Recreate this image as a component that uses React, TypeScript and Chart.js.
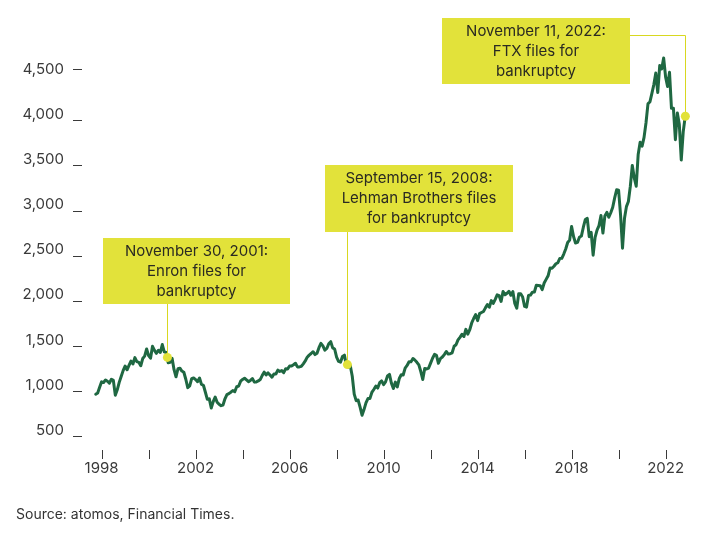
import React, { useEffect, useRef } from "react";
import { Chart, registerables } from "chart.js";

Chart.register(...registerables);

// ---------- DATA ----------
const START_YEAR = 1997;
const START_MONTH = 9; // October 1997 (0-based month)

const levels1997to2004 = [
  968.0, 982.0, 1045.0,
  1105.0, 1098.0, 1125.0, 1111.8, 1090.8, 1133.8, 1120.7, 957.3, 1017.0, 1098.7, 1163.6, 1229.2,
  1279.6, 1238.3, 1286.4, 1335.2, 1301.8, 1372.7, 1328.7, 1320.4, 1282.7, 1362.9, 1389.0, 1469.3,
  1394.5, 1366.4, 1498.6, 1452.4, 1420.6, 1454.6, 1430.8, 1517.7, 1436.5, 1429.4, 1315.2, 1320.3,
  1366.0, 1239.9, 1160.3, 1249.5, 1255.8, 1224.4, 1211.2, 1133.6, 1040.9, 1059.8, 1139.5, 1148.1,
  1130.2, 1106.7, 1147.4, 1076.9, 1067.1, 989.8, 911.6, 916.1, 815.3, 885.8, 936.3, 879.8,
  855.7, 841.2, 848.2, 916.9, 963.6, 974.5, 990.3, 1008.0, 996.0, 1050.7, 1058.2, 1111.9,
  1131.1, 1144.9, 1126.2, 1107.3, 1120.7, 1140.8, 1101.7, 1104.2, 1114.6, 1130.2, 1173.8, 1211.9,
];

const levels2005to2012 = [
  1181.3, 1203.6, 1180.6, 1156.9, 1191.5, 1191.3, 1234.2, 1220.3, 1228.8, 1207.0, 1249.5, 1248.3,
  1280.1, 1280.7, 1294.9, 1310.6, 1270.1, 1270.2, 1276.7, 1303.8, 1335.9, 1377.9, 1400.6, 1418.3,
  1438.2, 1406.8, 1420.9, 1482.4, 1530.6, 1503.4, 1455.3, 1474.0, 1526.8, 1549.4, 1481.1, 1468.4,
  1378.6, 1330.6, 1322.7, 1385.6, 1400.4, 1280.0, 1267.4, 1282.8, 1166.4, 968.8, 896.2, 903.3,
  825.9, 735.1, 797.9, 872.8, 919.1, 919.3, 987.5, 1020.6, 1057.1, 1036.2, 1095.6, 1115.1,
  1073.9, 1104.5, 1169.4, 1186.7, 1089.4, 1030.7, 1101.6, 1049.3, 1141.2, 1183.3, 1180.6, 1257.6,
  1286.1, 1327.2, 1325.8, 1363.6, 1345.2, 1320.6, 1292.3, 1218.9, 1131.4, 1253.3, 1247.0, 1257.6,
  1312.4, 1365.7, 1408.5, 1397.9, 1310.3, 1362.2, 1379.3, 1406.6, 1440.7, 1412.2, 1416.2, 1426.2,
];

const levels2013to2022 = [
  1498.1, 1514.7, 1569.2, 1597.6, 1630.7, 1606.3, 1685.7, 1633.0, 1681.6, 1756.5, 1805.8, 1848.4,
  1782.6, 1859.5, 1872.3, 1884.0, 1923.6, 1960.2, 1930.7, 2003.4, 1972.3, 2018.1, 2067.6, 2058.9,
  1995.0, 2104.5, 2067.9, 2085.5, 2107.4, 2063.1, 2103.8, 1972.2, 1920.0, 2079.4, 2080.4, 2043.9,
  1940.2, 1932.2, 2059.7, 2065.3, 2096.9, 2098.9, 2173.6, 2171.0, 2168.3, 2126.2, 2198.8, 2238.8,
  2278.9, 2363.6, 2362.7, 2384.2, 2411.8, 2423.4, 2470.3, 2471.7, 2519.4, 2575.3, 2647.6, 2673.6,
  2823.8, 2713.8, 2640.9, 2648.1, 2705.3, 2718.4, 2816.3, 2901.5, 2914.0, 2711.7, 2760.2, 2506.9,
  2704.1, 2784.5, 2834.4, 2945.8, 2752.1, 2941.8, 2980.4, 2926.5, 2976.7, 3037.6, 3141.0, 3230.8,
  3225.5, 2954.2, 2584.6, 2912.4, 3044.3, 3100.3, 3271.1, 3500.3, 3363.0, 3270.0, 3621.6, 3756.1,
  3714.2, 3811.2, 3972.9, 4181.2, 4204.1, 4297.5, 4395.3, 4522.7, 4307.5, 4605.4, 4567.0, 4690.0,
  4480.0, 4373.9, 4530.4, 4131.9, 4132.2, 3785.4, 4080.3, 3955.0, 3560.0, 3872.0, 4040.0,
];

const yTickValues = [500, 1000, 1500, 2000, 2500, 3000, 3500, 4000, 4500];
const xTickYears = [1998, 2000, 2002, 2004, 2006, 2008, 2010, 2012, 2014, 2016, 2018, 2020, 2022];
const xLabelYears = [1998, 2002, 2006, 2010, 2014, 2018, 2022];

const eventDates = [2000.8, 2008.46, 2022.84];
const eventLevels = [1375, 1296, 4044];
const eventTexts = [
  ["November 30, 2001:", "Enron files for", "bankruptcy"],
  ["September 15, 2008:", "Lehman Brothers files", "for bankruptcy"],
  ["November 11, 2022:", "FTX files for", "bankruptcy"],
];

// ---------- STYLE / LAYOUT ----------
const FONT = "Inter, 'Open Sans', 'DejaVu Sans', sans-serif";
const LINE_COLOR = "#1f6842";
const YELLOW = "#e2e23a";
const LEADER = "#d8d820";
const TEXT_COLOR = "#2b2b22";
const AXIS_TEXT = "#3a3a3a";

const boxes = [
  { x: 103, y: 238, w: 187, h: 66, leader: "down" },
  { x: 325, y: 165, w: 188, h: 67, leader: "down" },
  { x: 442, y: 18, w: 188, h: 66, leader: "elbow", elbowY: 35 },
];

const allLevels = [...levels1997to2004, ...levels2005to2012, ...levels2013to2022];
const points = allLevels.map((v, i) => ({ x: START_YEAR + (START_MONTH + i) / 12, y: v }));

const overlayPlugin = {
  id: "overlay",
  afterDatasetsDraw(chart: any) {
    const ctx = chart.ctx;
    const xs = chart.scales.x;
    const ys = chart.scales.y;
    const area = chart.chartArea;
    ctx.save();
    // y tick marks (the top one sits level with its label, the rest sit just below)
    ctx.strokeStyle = "#3a3a3a";
    ctx.lineWidth = 1;
    yTickValues.forEach((v, i) => {
      const lift = i === yTickValues.length - 1 ? 6 : 0;
      const py = Math.round(ys.getPixelForValue(v)) - lift + 0.5;
      ctx.beginPath();
      ctx.moveTo(73, py);
      ctx.lineTo(82, py);
      ctx.stroke();
    });
    // x tick marks
    xTickYears.forEach((yr) => {
      const px = Math.round(xs.getPixelForValue(yr)) + 0.5;
      ctx.beginPath();
      ctx.moveTo(px, area.bottom + 9);
      ctx.lineTo(px, area.bottom + 18);
      ctx.stroke();
    });
    // annotations
    eventDates.forEach((d, i) => {
      const b = boxes[i];
      const dx = xs.getPixelForValue(d);
      const dy = ys.getPixelForValue(eventLevels[i]);
      ctx.strokeStyle = LEADER;
      ctx.lineWidth = 1;
      ctx.beginPath();
      if (b.leader === "down") {
        ctx.moveTo(Math.round(dx) + 0.5, b.y + b.h);
        ctx.lineTo(Math.round(dx) + 0.5, dy);
      } else {
        const ey = (b.elbowY as number) + 0.5;
        ctx.moveTo(b.x + b.w, ey);
        ctx.lineTo(Math.round(dx) + 0.5, ey);
        ctx.lineTo(Math.round(dx) + 0.5, dy);
      }
      ctx.stroke();
      ctx.fillStyle = YELLOW;
      ctx.fillRect(b.x, b.y, b.w, b.h);
      ctx.fillStyle = TEXT_COLOR;
      ctx.font = `15px ${FONT}`;
      ctx.textAlign = "center";
      ctx.textBaseline = "middle";
      eventTexts[i].forEach((t, j) => {
        ctx.fillText(t, b.x + b.w / 2, b.y + 13 + j * 20);
      });
      ctx.fillStyle = YELLOW;
      ctx.beginPath();
      ctx.arc(dx, dy, 4.5, 0, Math.PI * 2);
      ctx.fill();
    });
    ctx.restore();
  },
};

export default function App() {
  const ref = useRef<HTMLCanvasElement>(null);
  useEffect(() => {
    const canvas = ref.current!;
    const chart = new Chart(canvas, {
      type: "line",
      data: {
        datasets: [
          {
            data: points,
            borderColor: LINE_COLOR,
            borderWidth: 3,
            pointRadius: 0,
            tension: 0,
            borderJoinStyle: "round",
            borderCapStyle: "round",
          } as any,
        ],
      },
      options: {
        responsive: false,
        maintainAspectRatio: false,
        animation: false,
        devicePixelRatio: 1,
        layout: { padding: { top: 48, right: 14, bottom: 63, left: 0 } },
        plugins: { legend: { display: false }, tooltip: { enabled: false }, title: { display: false } },
        scales: {
          x: {
            type: "linear",
            min: 1997.294,
            max: 2023.464,
            grid: { display: false, drawTicks: false },
            border: { display: false },
            afterBuildTicks: (s: any) => {
              s.ticks = xTickYears.map((v) => ({ value: v }));
            },
            afterFit: (s: any) => {
              s.height = 40;
            },
            ticks: {
              autoSkip: false,
              maxRotation: 0,
              padding: 18,
              color: AXIS_TEXT,
              font: { family: FONT, size: 15 },
              callback: (v: any) => (xLabelYears.includes(Number(v)) ? String(v) : ""),
            },
          },
          y: {
            type: "linear",
            min: 450,
            max: 4800,
            grid: { display: false, drawTicks: false },
            border: { display: false },
            afterBuildTicks: (s: any) => {
              s.ticks = yTickValues.map((v) => ({ value: v }));
            },
            afterFit: (s: any) => {
              s.width = 85;
            },
            ticks: {
              autoSkip: false,
              padding: 21,
              labelOffset: -6,
              color: AXIS_TEXT,
              font: { family: FONT, size: 15 },
              callback: (v: any) => Number(v).toLocaleString("en-US"),
            },
          },
        },
      },
      plugins: [overlayPlugin],
    });
    return () => chart.destroy();
  }, []);
  return (
    <div style={{ position: "fixed", left: 0, top: 0, width: 714, height: 544, background: "#fff" }}>
      <canvas ref={ref} width={714} height={544} style={{ display: "block", width: 714, height: 544 }} />
      <div
        style={{
          position: "absolute",
          left: 16,
          top: 505,
          fontFamily: FONT,
          fontSize: 14,
          color: "#333",
          whiteSpace: "nowrap",
        }}
      >
        Source: atomos, Financial Times.
      </div>
    </div>
  );
}
